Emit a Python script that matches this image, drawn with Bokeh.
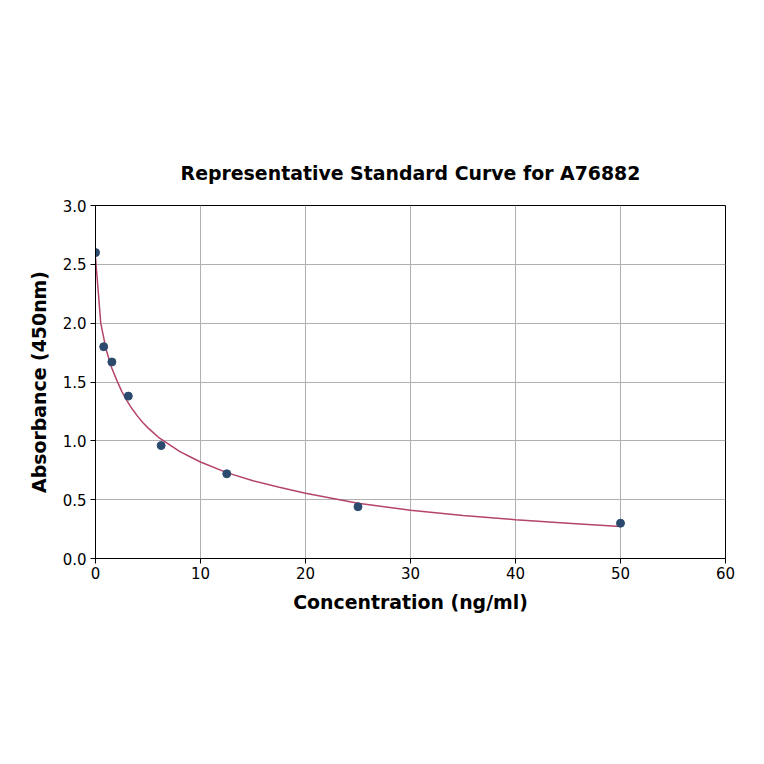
from bokeh.plotting import figure
from bokeh.models import FixedTicker, Range1d
from bokeh.embed import file_html
from bokeh.resources import INLINE

# Standard points
conc = [0.0, 0.78, 1.56, 3.125, 6.25, 12.5, 25.0, 50.0]
absorb = [2.60, 1.80, 1.67, 1.38, 0.96, 0.72, 0.44, 0.30]

# Fitted curve
curve_x = [0.0, 0.5, 1.0, 1.5, 2.0, 2.5, 3.0, 3.5, 4.0, 4.5, 5.0, 5.5, 6.0, 7.0, 8.0, 9.0, 10.0,
           12.5, 15.0, 17.5, 20.0, 25.0, 30.0, 35.0, 40.0, 45.0, 50.0]
curve_y = [2.56, 2.00, 1.78, 1.63, 1.52, 1.42, 1.34, 1.27, 1.21, 1.155, 1.11, 1.07, 1.03, 0.97, 0.91,
           0.865, 0.82, 0.73, 0.66, 0.605, 0.555, 0.47, 0.41, 0.365, 0.33, 0.30, 0.272]

x_ticks = [0, 10, 20, 30, 40, 50, 60]
y_ticks = [0.0, 0.5, 1.0, 1.5, 2.0, 2.5, 3.0]
y_tick_labels = ["0.0", "0.5", "1.0", "1.5", "2.0", "2.5", "3.0"]

FONT = "DejaVu Sans"

p = figure(width=756, height=756, output_backend="svg", toolbar_location=None,
           x_range=Range1d(0, 60), y_range=Range1d(0, 3.0),
           title="Representative Standard Curve for A76882",
           min_border_left=95, min_border_right=31, min_border_top=205, min_border_bottom=198)

p.title.text_font = FONT
p.title.text_font_size = "18.9px"
p.title.text_font_style = "bold"
p.title.align = "center"
p.title.text_color = "black"
p.title.standoff = 43

p.outline_line_color = "black"
p.outline_line_alpha = 1.0
p.outline_line_width = 1

for ax in (p.xaxis[0], p.yaxis[0]):
    ax.axis_label_text_font = FONT
    ax.axis_label_text_font_size = "18.9px"
    ax.axis_label_text_font_style = "bold"
    ax.axis_label_text_color = "black"
    ax.major_label_text_font = FONT
    ax.major_label_text_font_size = "15px"
    ax.major_label_text_color = "black"
    ax.minor_tick_line_color = None
    ax.major_tick_in = 0
    ax.major_tick_out = 5
    ax.major_tick_line_color = "black"
    ax.axis_line_color = "black"

p.xaxis.axis_label = "Concentration (ng/ml)"
p.yaxis.axis_label = "Absorbance (450nm)"
p.xaxis.ticker = FixedTicker(ticks=x_ticks)
p.yaxis.ticker = FixedTicker(ticks=y_ticks)
p.yaxis.major_label_overrides = {t: l for t, l in zip(y_ticks, y_tick_labels)}
p.xaxis.major_label_standoff = 3
p.yaxis.major_label_standoff = 4
p.xaxis.axis_label_standoff = 9
p.yaxis.axis_label_standoff = 10

p.grid.grid_line_color = "#b0b0b0"
p.grid.grid_line_alpha = 1.0
p.grid.grid_line_width = 1

p.line(curve_x, curve_y, line_color="#b5446b", line_width=1.5)
p.scatter(conc, absorb, size=8, fill_color="#2c4a6e", line_color="#2c4a6e")

open("out.html", "w").write(file_html(p, INLINE))
